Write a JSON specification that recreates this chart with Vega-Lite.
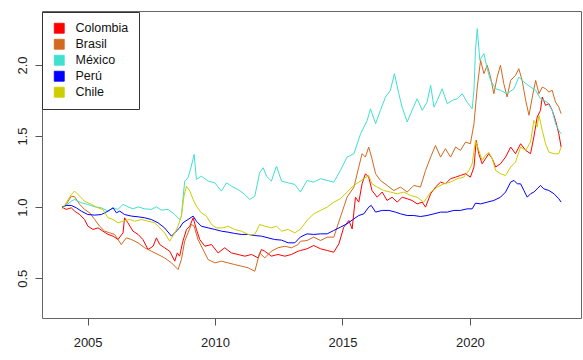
{
"$schema": "https://vega.github.io/schema/vega-lite/v6.json",
"width": 539, "height": 307,
"autosize": {"type": "none"},
"padding": {"left": 42, "top": 11, "right": 2, "bottom": 42},
"background": "white",
"config": {"font": "Liberation Sans", "view": {"stroke": "#666", "strokeWidth": 1}},
"data": {"values": [
{"s":"Colombia","t":2004.0,"v":1.000},{"s":"Colombia","t":2004.16,"v":0.984},{"s":"Colombia","t":2004.36,"v":0.995},{"s":"Colombia","t":2004.49,"v":0.972},{"s":"Colombia","t":2004.69,"v":0.948},{"s":"Colombia","t":2004.88,"v":0.913},{"s":"Colombia","t":2005.01,"v":0.866},{"s":"Colombia","t":2005.21,"v":0.843},{"s":"Colombia","t":2005.41,"v":0.854},{"s":"Colombia","t":2005.6,"v":0.831},{"s":"Colombia","t":2005.8,"v":0.808},{"s":"Colombia","t":2006.0,"v":0.796},{"s":"Colombia","t":2006.19,"v":0.772},{"s":"Colombia","t":2006.39,"v":0.819},{"s":"Colombia","t":2006.45,"v":0.925},{"s":"Colombia","t":2006.58,"v":0.890},{"s":"Colombia","t":2006.78,"v":0.831},{"s":"Colombia","t":2006.98,"v":0.808},{"s":"Colombia","t":2007.17,"v":0.772},{"s":"Colombia","t":2007.37,"v":0.702},{"s":"Colombia","t":2007.57,"v":0.725},{"s":"Colombia","t":2007.7,"v":0.784},{"s":"Colombia","t":2007.83,"v":0.737},{"s":"Colombia","t":2008.02,"v":0.714},{"s":"Colombia","t":2008.22,"v":0.690},{"s":"Colombia","t":2008.42,"v":0.620},{"s":"Colombia","t":2008.52,"v":0.678},{"s":"Colombia","t":2008.61,"v":0.655},{"s":"Colombia","t":2008.74,"v":0.761},{"s":"Colombia","t":2008.88,"v":0.843},{"s":"Colombia","t":2009.01,"v":0.866},{"s":"Colombia","t":2009.14,"v":0.925},{"s":"Colombia","t":2009.27,"v":0.843},{"s":"Colombia","t":2009.4,"v":0.772},{"s":"Colombia","t":2009.6,"v":0.725},{"s":"Colombia","t":2009.86,"v":0.737},{"s":"Colombia","t":2010.12,"v":0.678},{"s":"Colombia","t":2010.38,"v":0.714},{"s":"Colombia","t":2010.64,"v":0.678},{"s":"Colombia","t":2010.9,"v":0.667},{"s":"Colombia","t":2011.17,"v":0.655},{"s":"Colombia","t":2011.43,"v":0.667},{"s":"Colombia","t":2011.69,"v":0.643},{"s":"Colombia","t":2011.82,"v":0.702},{"s":"Colombia","t":2011.95,"v":0.690},{"s":"Colombia","t":2012.21,"v":0.655},{"s":"Colombia","t":2012.47,"v":0.667},{"s":"Colombia","t":2012.74,"v":0.655},{"s":"Colombia","t":2013.0,"v":0.667},{"s":"Colombia","t":2013.26,"v":0.690},{"s":"Colombia","t":2013.35,"v":0.695},{"s":"Colombia","t":2013.61,"v":0.707},{"s":"Colombia","t":2013.87,"v":0.730},{"s":"Colombia","t":2014.14,"v":0.707},{"s":"Colombia","t":2014.4,"v":0.695},{"s":"Colombia","t":2014.66,"v":0.683},{"s":"Colombia","t":2014.86,"v":0.742},{"s":"Colombia","t":2015.05,"v":0.859},{"s":"Colombia","t":2015.25,"v":0.906},{"s":"Colombia","t":2015.38,"v":0.847},{"s":"Colombia","t":2015.51,"v":1.070},{"s":"Colombia","t":2015.64,"v":1.035},{"s":"Colombia","t":2015.77,"v":1.164},{"s":"Colombia","t":2015.9,"v":1.235},{"s":"Colombia","t":2016.03,"v":1.211},{"s":"Colombia","t":2016.16,"v":1.117},{"s":"Colombia","t":2016.36,"v":1.070},{"s":"Colombia","t":2016.56,"v":1.106},{"s":"Colombia","t":2016.75,"v":1.047},{"s":"Colombia","t":2016.95,"v":1.070},{"s":"Colombia","t":2017.15,"v":1.035},{"s":"Colombia","t":2017.34,"v":1.070},{"s":"Colombia","t":2017.54,"v":1.059},{"s":"Colombia","t":2017.73,"v":1.047},{"s":"Colombia","t":2017.93,"v":1.023},{"s":"Colombia","t":2018.13,"v":1.035},{"s":"Colombia","t":2018.26,"v":1.000},{"s":"Colombia","t":2018.46,"v":1.094},{"s":"Colombia","t":2018.65,"v":1.141},{"s":"Colombia","t":2018.85,"v":1.176},{"s":"Colombia","t":2019.04,"v":1.164},{"s":"Colombia","t":2019.24,"v":1.200},{"s":"Colombia","t":2019.44,"v":1.211},{"s":"Colombia","t":2019.63,"v":1.223},{"s":"Colombia","t":2019.83,"v":1.235},{"s":"Colombia","t":2020.02,"v":1.211},{"s":"Colombia","t":2020.16,"v":1.282},{"s":"Colombia","t":2020.25,"v":1.469},{"s":"Colombia","t":2020.35,"v":1.376},{"s":"Colombia","t":2020.48,"v":1.305},{"s":"Colombia","t":2020.61,"v":1.340},{"s":"Colombia","t":2020.74,"v":1.376},{"s":"Colombia","t":2020.88,"v":1.340},{"s":"Colombia","t":2021.01,"v":1.282},{"s":"Colombia","t":2021.2,"v":1.305},{"s":"Colombia","t":2021.4,"v":1.352},{"s":"Colombia","t":2021.6,"v":1.423},{"s":"Colombia","t":2021.79,"v":1.376},{"s":"Colombia","t":2021.99,"v":1.446},{"s":"Colombia","t":2022.19,"v":1.399},{"s":"Colombia","t":2022.38,"v":1.376},{"s":"Colombia","t":2022.51,"v":1.493},{"s":"Colombia","t":2022.64,"v":1.634},{"s":"Colombia","t":2022.77,"v":1.681},{"s":"Colombia","t":2022.84,"v":1.775},{"s":"Colombia","t":2022.97,"v":1.716},{"s":"Colombia","t":2023.1,"v":1.728},{"s":"Colombia","t":2023.23,"v":1.681},{"s":"Colombia","t":2023.36,"v":1.610},{"s":"Colombia","t":2023.49,"v":1.516},{"s":"Colombia","t":2023.58,"v":1.423},
{"s":"Brasil","t":2004.0,"v":1.000},{"s":"Brasil","t":2004.16,"v":1.019},{"s":"Brasil","t":2004.36,"v":1.077},{"s":"Brasil","t":2004.49,"v":1.073},{"s":"Brasil","t":2004.69,"v":1.019},{"s":"Brasil","t":2004.88,"v":0.984},{"s":"Brasil","t":2005.08,"v":0.960},{"s":"Brasil","t":2005.28,"v":0.913},{"s":"Brasil","t":2005.47,"v":0.866},{"s":"Brasil","t":2005.67,"v":0.831},{"s":"Brasil","t":2005.87,"v":0.819},{"s":"Brasil","t":2006.06,"v":0.808},{"s":"Brasil","t":2006.32,"v":0.737},{"s":"Brasil","t":2006.52,"v":0.784},{"s":"Brasil","t":2006.72,"v":0.772},{"s":"Brasil","t":2006.98,"v":0.749},{"s":"Brasil","t":2007.24,"v":0.714},{"s":"Brasil","t":2007.5,"v":0.690},{"s":"Brasil","t":2007.76,"v":0.667},{"s":"Brasil","t":2008.02,"v":0.643},{"s":"Brasil","t":2008.29,"v":0.608},{"s":"Brasil","t":2008.55,"v":0.561},{"s":"Brasil","t":2008.68,"v":0.631},{"s":"Brasil","t":2008.81,"v":0.761},{"s":"Brasil","t":2008.94,"v":0.819},{"s":"Brasil","t":2009.07,"v":0.878},{"s":"Brasil","t":2009.18,"v":0.866},{"s":"Brasil","t":2009.33,"v":0.772},{"s":"Brasil","t":2009.53,"v":0.702},{"s":"Brasil","t":2009.73,"v":0.631},{"s":"Brasil","t":2009.99,"v":0.608},{"s":"Brasil","t":2010.25,"v":0.620},{"s":"Brasil","t":2010.51,"v":0.608},{"s":"Brasil","t":2010.77,"v":0.596},{"s":"Brasil","t":2011.03,"v":0.585},{"s":"Brasil","t":2011.3,"v":0.573},{"s":"Brasil","t":2011.56,"v":0.549},{"s":"Brasil","t":2011.75,"v":0.678},{"s":"Brasil","t":2011.95,"v":0.643},{"s":"Brasil","t":2012.21,"v":0.690},{"s":"Brasil","t":2012.47,"v":0.714},{"s":"Brasil","t":2012.74,"v":0.725},{"s":"Brasil","t":2013.0,"v":0.714},{"s":"Brasil","t":2013.26,"v":0.737},{"s":"Brasil","t":2013.35,"v":0.760},{"s":"Brasil","t":2013.61,"v":0.765},{"s":"Brasil","t":2013.87,"v":0.789},{"s":"Brasil","t":2014.14,"v":0.765},{"s":"Brasil","t":2014.4,"v":0.789},{"s":"Brasil","t":2014.66,"v":0.789},{"s":"Brasil","t":2014.92,"v":0.930},{"s":"Brasil","t":2015.18,"v":1.070},{"s":"Brasil","t":2015.45,"v":1.141},{"s":"Brasil","t":2015.64,"v":1.282},{"s":"Brasil","t":2015.77,"v":1.376},{"s":"Brasil","t":2015.9,"v":1.352},{"s":"Brasil","t":2016.03,"v":1.423},{"s":"Brasil","t":2016.16,"v":1.340},{"s":"Brasil","t":2016.3,"v":1.235},{"s":"Brasil","t":2016.49,"v":1.188},{"s":"Brasil","t":2016.75,"v":1.153},{"s":"Brasil","t":2017.01,"v":1.117},{"s":"Brasil","t":2017.28,"v":1.141},{"s":"Brasil","t":2017.54,"v":1.106},{"s":"Brasil","t":2017.8,"v":1.153},{"s":"Brasil","t":2018.06,"v":1.141},{"s":"Brasil","t":2018.26,"v":1.258},{"s":"Brasil","t":2018.46,"v":1.352},{"s":"Brasil","t":2018.65,"v":1.434},{"s":"Brasil","t":2018.85,"v":1.352},{"s":"Brasil","t":2019.04,"v":1.411},{"s":"Brasil","t":2019.24,"v":1.352},{"s":"Brasil","t":2019.44,"v":1.423},{"s":"Brasil","t":2019.63,"v":1.399},{"s":"Brasil","t":2019.83,"v":1.458},{"s":"Brasil","t":2020.02,"v":1.446},{"s":"Brasil","t":2020.16,"v":1.587},{"s":"Brasil","t":2020.29,"v":1.845},{"s":"Brasil","t":2020.42,"v":2.033},{"s":"Brasil","t":2020.55,"v":1.939},{"s":"Brasil","t":2020.68,"v":1.998},{"s":"Brasil","t":2020.81,"v":1.915},{"s":"Brasil","t":2020.94,"v":1.798},{"s":"Brasil","t":2021.07,"v":1.915},{"s":"Brasil","t":2021.2,"v":1.998},{"s":"Brasil","t":2021.33,"v":1.869},{"s":"Brasil","t":2021.46,"v":1.775},{"s":"Brasil","t":2021.6,"v":1.892},{"s":"Brasil","t":2021.79,"v":1.927},{"s":"Brasil","t":2021.92,"v":1.974},{"s":"Brasil","t":2022.05,"v":1.892},{"s":"Brasil","t":2022.19,"v":1.751},{"s":"Brasil","t":2022.32,"v":1.646},{"s":"Brasil","t":2022.45,"v":1.775},{"s":"Brasil","t":2022.58,"v":1.892},{"s":"Brasil","t":2022.71,"v":1.798},{"s":"Brasil","t":2022.84,"v":1.845},{"s":"Brasil","t":2022.97,"v":1.833},{"s":"Brasil","t":2023.1,"v":1.810},{"s":"Brasil","t":2023.23,"v":1.822},{"s":"Brasil","t":2023.36,"v":1.739},{"s":"Brasil","t":2023.49,"v":1.704},{"s":"Brasil","t":2023.58,"v":1.657},
{"s":"México","t":2004.0,"v":1.000},{"s":"México","t":2004.16,"v":1.012},{"s":"México","t":2004.36,"v":1.042},{"s":"México","t":2004.49,"v":1.054},{"s":"México","t":2004.75,"v":1.031},{"s":"México","t":2005.01,"v":1.019},{"s":"México","t":2005.28,"v":1.002},{"s":"México","t":2005.54,"v":0.995},{"s":"México","t":2005.8,"v":0.972},{"s":"México","t":2006.0,"v":0.995},{"s":"México","t":2006.19,"v":0.984},{"s":"México","t":2006.39,"v":1.019},{"s":"México","t":2006.58,"v":1.002},{"s":"México","t":2006.78,"v":0.988},{"s":"México","t":2006.98,"v":1.002},{"s":"México","t":2007.24,"v":0.988},{"s":"México","t":2007.5,"v":0.984},{"s":"México","t":2007.7,"v":1.002},{"s":"México","t":2007.89,"v":0.979},{"s":"México","t":2008.16,"v":0.984},{"s":"México","t":2008.42,"v":0.948},{"s":"México","t":2008.61,"v":0.913},{"s":"México","t":2008.68,"v":0.937},{"s":"México","t":2008.74,"v":1.054},{"s":"México","t":2008.81,"v":1.183},{"s":"México","t":2008.94,"v":1.207},{"s":"México","t":2009.07,"v":1.289},{"s":"México","t":2009.18,"v":1.371},{"s":"México","t":2009.27,"v":1.195},{"s":"México","t":2009.46,"v":1.218},{"s":"México","t":2009.73,"v":1.183},{"s":"México","t":2009.99,"v":1.171},{"s":"México","t":2010.25,"v":1.113},{"s":"México","t":2010.45,"v":1.171},{"s":"México","t":2010.64,"v":1.148},{"s":"México","t":2010.9,"v":1.124},{"s":"México","t":2011.17,"v":1.089},{"s":"México","t":2011.36,"v":1.054},{"s":"México","t":2011.56,"v":1.077},{"s":"México","t":2011.75,"v":1.242},{"s":"México","t":2011.89,"v":1.277},{"s":"México","t":2012.02,"v":1.218},{"s":"México","t":2012.21,"v":1.183},{"s":"México","t":2012.41,"v":1.289},{"s":"México","t":2012.61,"v":1.183},{"s":"México","t":2012.87,"v":1.171},{"s":"México","t":2013.13,"v":1.160},{"s":"México","t":2013.35,"v":1.106},{"s":"México","t":2013.61,"v":1.188},{"s":"México","t":2013.87,"v":1.176},{"s":"México","t":2014.14,"v":1.200},{"s":"México","t":2014.4,"v":1.188},{"s":"México","t":2014.66,"v":1.176},{"s":"México","t":2014.92,"v":1.258},{"s":"México","t":2015.18,"v":1.352},{"s":"México","t":2015.45,"v":1.376},{"s":"México","t":2015.71,"v":1.516},{"s":"México","t":2015.97,"v":1.610},{"s":"México","t":2016.1,"v":1.692},{"s":"México","t":2016.3,"v":1.587},{"s":"México","t":2016.49,"v":1.681},{"s":"México","t":2016.69,"v":1.775},{"s":"México","t":2016.88,"v":1.822},{"s":"México","t":2017.04,"v":1.939},{"s":"México","t":2017.21,"v":1.798},{"s":"México","t":2017.34,"v":1.704},{"s":"México","t":2017.54,"v":1.599},{"s":"México","t":2017.73,"v":1.681},{"s":"México","t":2017.93,"v":1.763},{"s":"México","t":2018.13,"v":1.681},{"s":"México","t":2018.32,"v":1.739},{"s":"México","t":2018.46,"v":1.857},{"s":"México","t":2018.59,"v":1.704},{"s":"México","t":2018.72,"v":1.751},{"s":"México","t":2018.91,"v":1.833},{"s":"México","t":2019.11,"v":1.728},{"s":"México","t":2019.31,"v":1.751},{"s":"México","t":2019.5,"v":1.763},{"s":"México","t":2019.7,"v":1.798},{"s":"México","t":2019.89,"v":1.739},{"s":"México","t":2020.09,"v":1.692},{"s":"México","t":2020.16,"v":1.822},{"s":"México","t":2020.22,"v":2.103},{"s":"México","t":2020.29,"v":2.256},{"s":"México","t":2020.39,"v":2.033},{"s":"México","t":2020.55,"v":2.080},{"s":"México","t":2020.68,"v":1.974},{"s":"México","t":2020.81,"v":1.892},{"s":"México","t":2021.01,"v":1.833},{"s":"México","t":2021.2,"v":1.822},{"s":"México","t":2021.46,"v":1.798},{"s":"México","t":2021.73,"v":1.833},{"s":"México","t":2021.92,"v":1.915},{"s":"México","t":2022.12,"v":1.880},{"s":"México","t":2022.38,"v":1.845},{"s":"México","t":2022.58,"v":1.822},{"s":"México","t":2022.77,"v":1.763},{"s":"México","t":2023.03,"v":1.739},{"s":"México","t":2023.23,"v":1.681},{"s":"México","t":2023.36,"v":1.587},{"s":"México","t":2023.49,"v":1.540},{"s":"México","t":2023.58,"v":1.516},
{"s":"Perú","t":2004.0,"v":1.000},{"s":"Perú","t":2004.16,"v":1.012},{"s":"Perú","t":2004.36,"v":1.012},{"s":"Perú","t":2004.56,"v":0.995},{"s":"Perú","t":2004.75,"v":0.972},{"s":"Perú","t":2005.01,"v":0.948},{"s":"Perú","t":2005.28,"v":0.944},{"s":"Perú","t":2005.54,"v":0.948},{"s":"Perú","t":2005.8,"v":0.972},{"s":"Perú","t":2006.0,"v":0.995},{"s":"Perú","t":2006.13,"v":0.960},{"s":"Perú","t":2006.26,"v":0.972},{"s":"Perú","t":2006.45,"v":0.948},{"s":"Perú","t":2006.72,"v":0.937},{"s":"Perú","t":2006.98,"v":0.932},{"s":"Perú","t":2007.24,"v":0.925},{"s":"Perú","t":2007.5,"v":0.913},{"s":"Perú","t":2007.76,"v":0.890},{"s":"Perú","t":2008.02,"v":0.854},{"s":"Perú","t":2008.29,"v":0.796},{"s":"Perú","t":2008.48,"v":0.831},{"s":"Perú","t":2008.61,"v":0.854},{"s":"Perú","t":2008.74,"v":0.890},{"s":"Perú","t":2008.94,"v":0.913},{"s":"Perú","t":2009.14,"v":0.937},{"s":"Perú","t":2009.27,"v":0.901},{"s":"Perú","t":2009.46,"v":0.866},{"s":"Perú","t":2009.73,"v":0.854},{"s":"Perú","t":2009.99,"v":0.843},{"s":"Perú","t":2010.25,"v":0.831},{"s":"Perú","t":2010.51,"v":0.824},{"s":"Perú","t":2010.77,"v":0.815},{"s":"Perú","t":2011.03,"v":0.808},{"s":"Perú","t":2011.3,"v":0.808},{"s":"Perú","t":2011.56,"v":0.800},{"s":"Perú","t":2011.82,"v":0.796},{"s":"Perú","t":2012.08,"v":0.784},{"s":"Perú","t":2012.34,"v":0.772},{"s":"Perú","t":2012.61,"v":0.768},{"s":"Perú","t":2012.87,"v":0.749},{"s":"Perú","t":2013.13,"v":0.749},{"s":"Perú","t":2013.35,"v":0.790},{"s":"Perú","t":2013.61,"v":0.812},{"s":"Perú","t":2013.87,"v":0.808},{"s":"Perú","t":2014.14,"v":0.812},{"s":"Perú","t":2014.4,"v":0.812},{"s":"Perú","t":2014.66,"v":0.836},{"s":"Perú","t":2014.92,"v":0.859},{"s":"Perú","t":2015.18,"v":0.883},{"s":"Perú","t":2015.45,"v":0.918},{"s":"Perú","t":2015.64,"v":0.941},{"s":"Perú","t":2015.84,"v":0.953},{"s":"Perú","t":2016.03,"v":1.000},{"s":"Perú","t":2016.13,"v":1.012},{"s":"Perú","t":2016.3,"v":0.965},{"s":"Perú","t":2016.56,"v":0.977},{"s":"Perú","t":2016.82,"v":0.977},{"s":"Perú","t":2017.08,"v":0.965},{"s":"Perú","t":2017.28,"v":0.953},{"s":"Perú","t":2017.54,"v":0.941},{"s":"Perú","t":2017.8,"v":0.941},{"s":"Perú","t":2018.06,"v":0.934},{"s":"Perú","t":2018.32,"v":0.941},{"s":"Perú","t":2018.59,"v":0.953},{"s":"Perú","t":2018.85,"v":0.965},{"s":"Perú","t":2019.11,"v":0.965},{"s":"Perú","t":2019.37,"v":0.977},{"s":"Perú","t":2019.63,"v":0.977},{"s":"Perú","t":2019.89,"v":0.988},{"s":"Perú","t":2020.09,"v":0.988},{"s":"Perú","t":2020.22,"v":1.028},{"s":"Perú","t":2020.42,"v":1.023},{"s":"Perú","t":2020.68,"v":1.035},{"s":"Perú","t":2020.94,"v":1.047},{"s":"Perú","t":2021.2,"v":1.070},{"s":"Perú","t":2021.4,"v":1.106},{"s":"Perú","t":2021.6,"v":1.176},{"s":"Perú","t":2021.73,"v":1.188},{"s":"Perú","t":2021.86,"v":1.164},{"s":"Perú","t":2021.99,"v":1.164},{"s":"Perú","t":2022.12,"v":1.117},{"s":"Perú","t":2022.25,"v":1.070},{"s":"Perú","t":2022.38,"v":1.094},{"s":"Perú","t":2022.51,"v":1.106},{"s":"Perú","t":2022.64,"v":1.129},{"s":"Perú","t":2022.77,"v":1.153},{"s":"Perú","t":2022.9,"v":1.129},{"s":"Perú","t":2023.1,"v":1.117},{"s":"Perú","t":2023.3,"v":1.094},{"s":"Perú","t":2023.49,"v":1.059},{"s":"Perú","t":2023.58,"v":1.035},
{"s":"Chile","t":2004.0,"v":0.984},{"s":"Chile","t":2004.16,"v":1.031},{"s":"Chile","t":2004.36,"v":1.089},{"s":"Chile","t":2004.49,"v":1.113},{"s":"Chile","t":2004.69,"v":1.077},{"s":"Chile","t":2004.88,"v":1.042},{"s":"Chile","t":2005.15,"v":1.019},{"s":"Chile","t":2005.41,"v":0.995},{"s":"Chile","t":2005.6,"v":0.984},{"s":"Chile","t":2005.8,"v":0.925},{"s":"Chile","t":2006.0,"v":0.913},{"s":"Chile","t":2006.19,"v":0.890},{"s":"Chile","t":2006.39,"v":0.901},{"s":"Chile","t":2006.65,"v":0.913},{"s":"Chile","t":2006.85,"v":0.901},{"s":"Chile","t":2007.11,"v":0.913},{"s":"Chile","t":2007.37,"v":0.901},{"s":"Chile","t":2007.63,"v":0.890},{"s":"Chile","t":2007.83,"v":0.854},{"s":"Chile","t":2008.02,"v":0.819},{"s":"Chile","t":2008.22,"v":0.761},{"s":"Chile","t":2008.42,"v":0.819},{"s":"Chile","t":2008.55,"v":0.866},{"s":"Chile","t":2008.68,"v":0.937},{"s":"Chile","t":2008.78,"v":1.077},{"s":"Chile","t":2008.88,"v":1.148},{"s":"Chile","t":2009.01,"v":1.113},{"s":"Chile","t":2009.14,"v":1.054},{"s":"Chile","t":2009.27,"v":1.007},{"s":"Chile","t":2009.46,"v":0.960},{"s":"Chile","t":2009.66,"v":0.937},{"s":"Chile","t":2009.86,"v":0.878},{"s":"Chile","t":2010.05,"v":0.854},{"s":"Chile","t":2010.31,"v":0.854},{"s":"Chile","t":2010.51,"v":0.866},{"s":"Chile","t":2010.77,"v":0.843},{"s":"Chile","t":2011.03,"v":0.831},{"s":"Chile","t":2011.3,"v":0.808},{"s":"Chile","t":2011.56,"v":0.808},{"s":"Chile","t":2011.75,"v":0.878},{"s":"Chile","t":2011.95,"v":0.866},{"s":"Chile","t":2012.21,"v":0.854},{"s":"Chile","t":2012.41,"v":0.866},{"s":"Chile","t":2012.61,"v":0.831},{"s":"Chile","t":2012.87,"v":0.843},{"s":"Chile","t":2013.13,"v":0.819},{"s":"Chile","t":2013.35,"v":0.845},{"s":"Chile","t":2013.61,"v":0.906},{"s":"Chile","t":2013.87,"v":0.953},{"s":"Chile","t":2014.14,"v":0.977},{"s":"Chile","t":2014.4,"v":1.000},{"s":"Chile","t":2014.66,"v":1.035},{"s":"Chile","t":2014.92,"v":1.059},{"s":"Chile","t":2015.18,"v":1.106},{"s":"Chile","t":2015.45,"v":1.153},{"s":"Chile","t":2015.64,"v":1.176},{"s":"Chile","t":2015.84,"v":1.200},{"s":"Chile","t":2016.03,"v":1.223},{"s":"Chile","t":2016.16,"v":1.164},{"s":"Chile","t":2016.36,"v":1.141},{"s":"Chile","t":2016.62,"v":1.117},{"s":"Chile","t":2016.88,"v":1.106},{"s":"Chile","t":2017.15,"v":1.094},{"s":"Chile","t":2017.41,"v":1.106},{"s":"Chile","t":2017.67,"v":1.082},{"s":"Chile","t":2017.93,"v":1.070},{"s":"Chile","t":2018.19,"v":1.035},{"s":"Chile","t":2018.46,"v":1.106},{"s":"Chile","t":2018.72,"v":1.141},{"s":"Chile","t":2018.98,"v":1.164},{"s":"Chile","t":2019.24,"v":1.176},{"s":"Chile","t":2019.5,"v":1.200},{"s":"Chile","t":2019.76,"v":1.211},{"s":"Chile","t":2019.96,"v":1.258},{"s":"Chile","t":2020.09,"v":1.305},{"s":"Chile","t":2020.22,"v":1.469},{"s":"Chile","t":2020.35,"v":1.399},{"s":"Chile","t":2020.48,"v":1.329},{"s":"Chile","t":2020.61,"v":1.364},{"s":"Chile","t":2020.74,"v":1.387},{"s":"Chile","t":2020.88,"v":1.340},{"s":"Chile","t":2021.01,"v":1.258},{"s":"Chile","t":2021.2,"v":1.235},{"s":"Chile","t":2021.4,"v":1.223},{"s":"Chile","t":2021.6,"v":1.282},{"s":"Chile","t":2021.79,"v":1.317},{"s":"Chile","t":2021.99,"v":1.423},{"s":"Chile","t":2022.19,"v":1.399},{"s":"Chile","t":2022.38,"v":1.458},{"s":"Chile","t":2022.51,"v":1.610},{"s":"Chile","t":2022.64,"v":1.563},{"s":"Chile","t":2022.71,"v":1.646},{"s":"Chile","t":2022.84,"v":1.540},{"s":"Chile","t":2022.97,"v":1.446},{"s":"Chile","t":2023.1,"v":1.387},{"s":"Chile","t":2023.3,"v":1.376},{"s":"Chile","t":2023.49,"v":1.376},{"s":"Chile","t":2023.58,"v":1.423}
]},
"mark": {"type": "line", "strokeWidth": 1, "clip": true},
"encoding": {
"x": {"field": "t", "type": "quantitative", "title": null,
  "scale": {"domain": [2003.21, 2024.36], "nice": false, "zero": false},
  "axis": {"values": [2005, 2010, 2015, 2020], "format": "d", "grid": false, "domain": false, "tickSize": 7, "tickColor": "#555", "labelPadding": 11, "labelFontSize": 13, "labelColor": "#222", "labelFont": "Liberation Sans"}},
"y": {"field": "v", "type": "quantitative", "title": null,
  "scale": {"domain": [0.22, 2.38], "nice": false, "zero": false},
  "axis": {"values": [0.5, 1, 1.5, 2], "format": ".1f", "grid": false, "domain": false, "tickSize": 7, "tickColor": "#555", "labelAngle": -90, "labelAlign": "center", "labelBaseline": "bottom", "labelPadding": 6, "labelFontSize": 13, "labelColor": "#222", "labelFont": "Liberation Sans"}},
"color": {"field": "s", "type": "nominal",
  "scale": {"domain": ["Colombia", "Brasil", "México", "Perú", "Chile"], "range": ["#FF0000", "#D2691E", "#40E0D0", "#0000FF", "#CDCD00"]},
  "legend": {"title": null, "orient": "none", "legendX": 0, "legendY": 1, "direction": "vertical",
    "fillColor": "white", "strokeColor": "#333", "padding": 10,
    "symbolType": "square", "symbolSize": 100, "symbolOffset": 1, "labelOffset": 10, "rowPadding": 2,
    "symbolStrokeColor": "#333", "symbolStrokeWidth": 0.8,
    "labelFontSize": 12.5, "labelFont": "Liberation Sans", "labelColor": "#111",
    "encode": {"symbols": {"update": {"fill": {"scale": "color", "field": "value"}, "stroke": {"value": "#444"}}}}}}
}
}
